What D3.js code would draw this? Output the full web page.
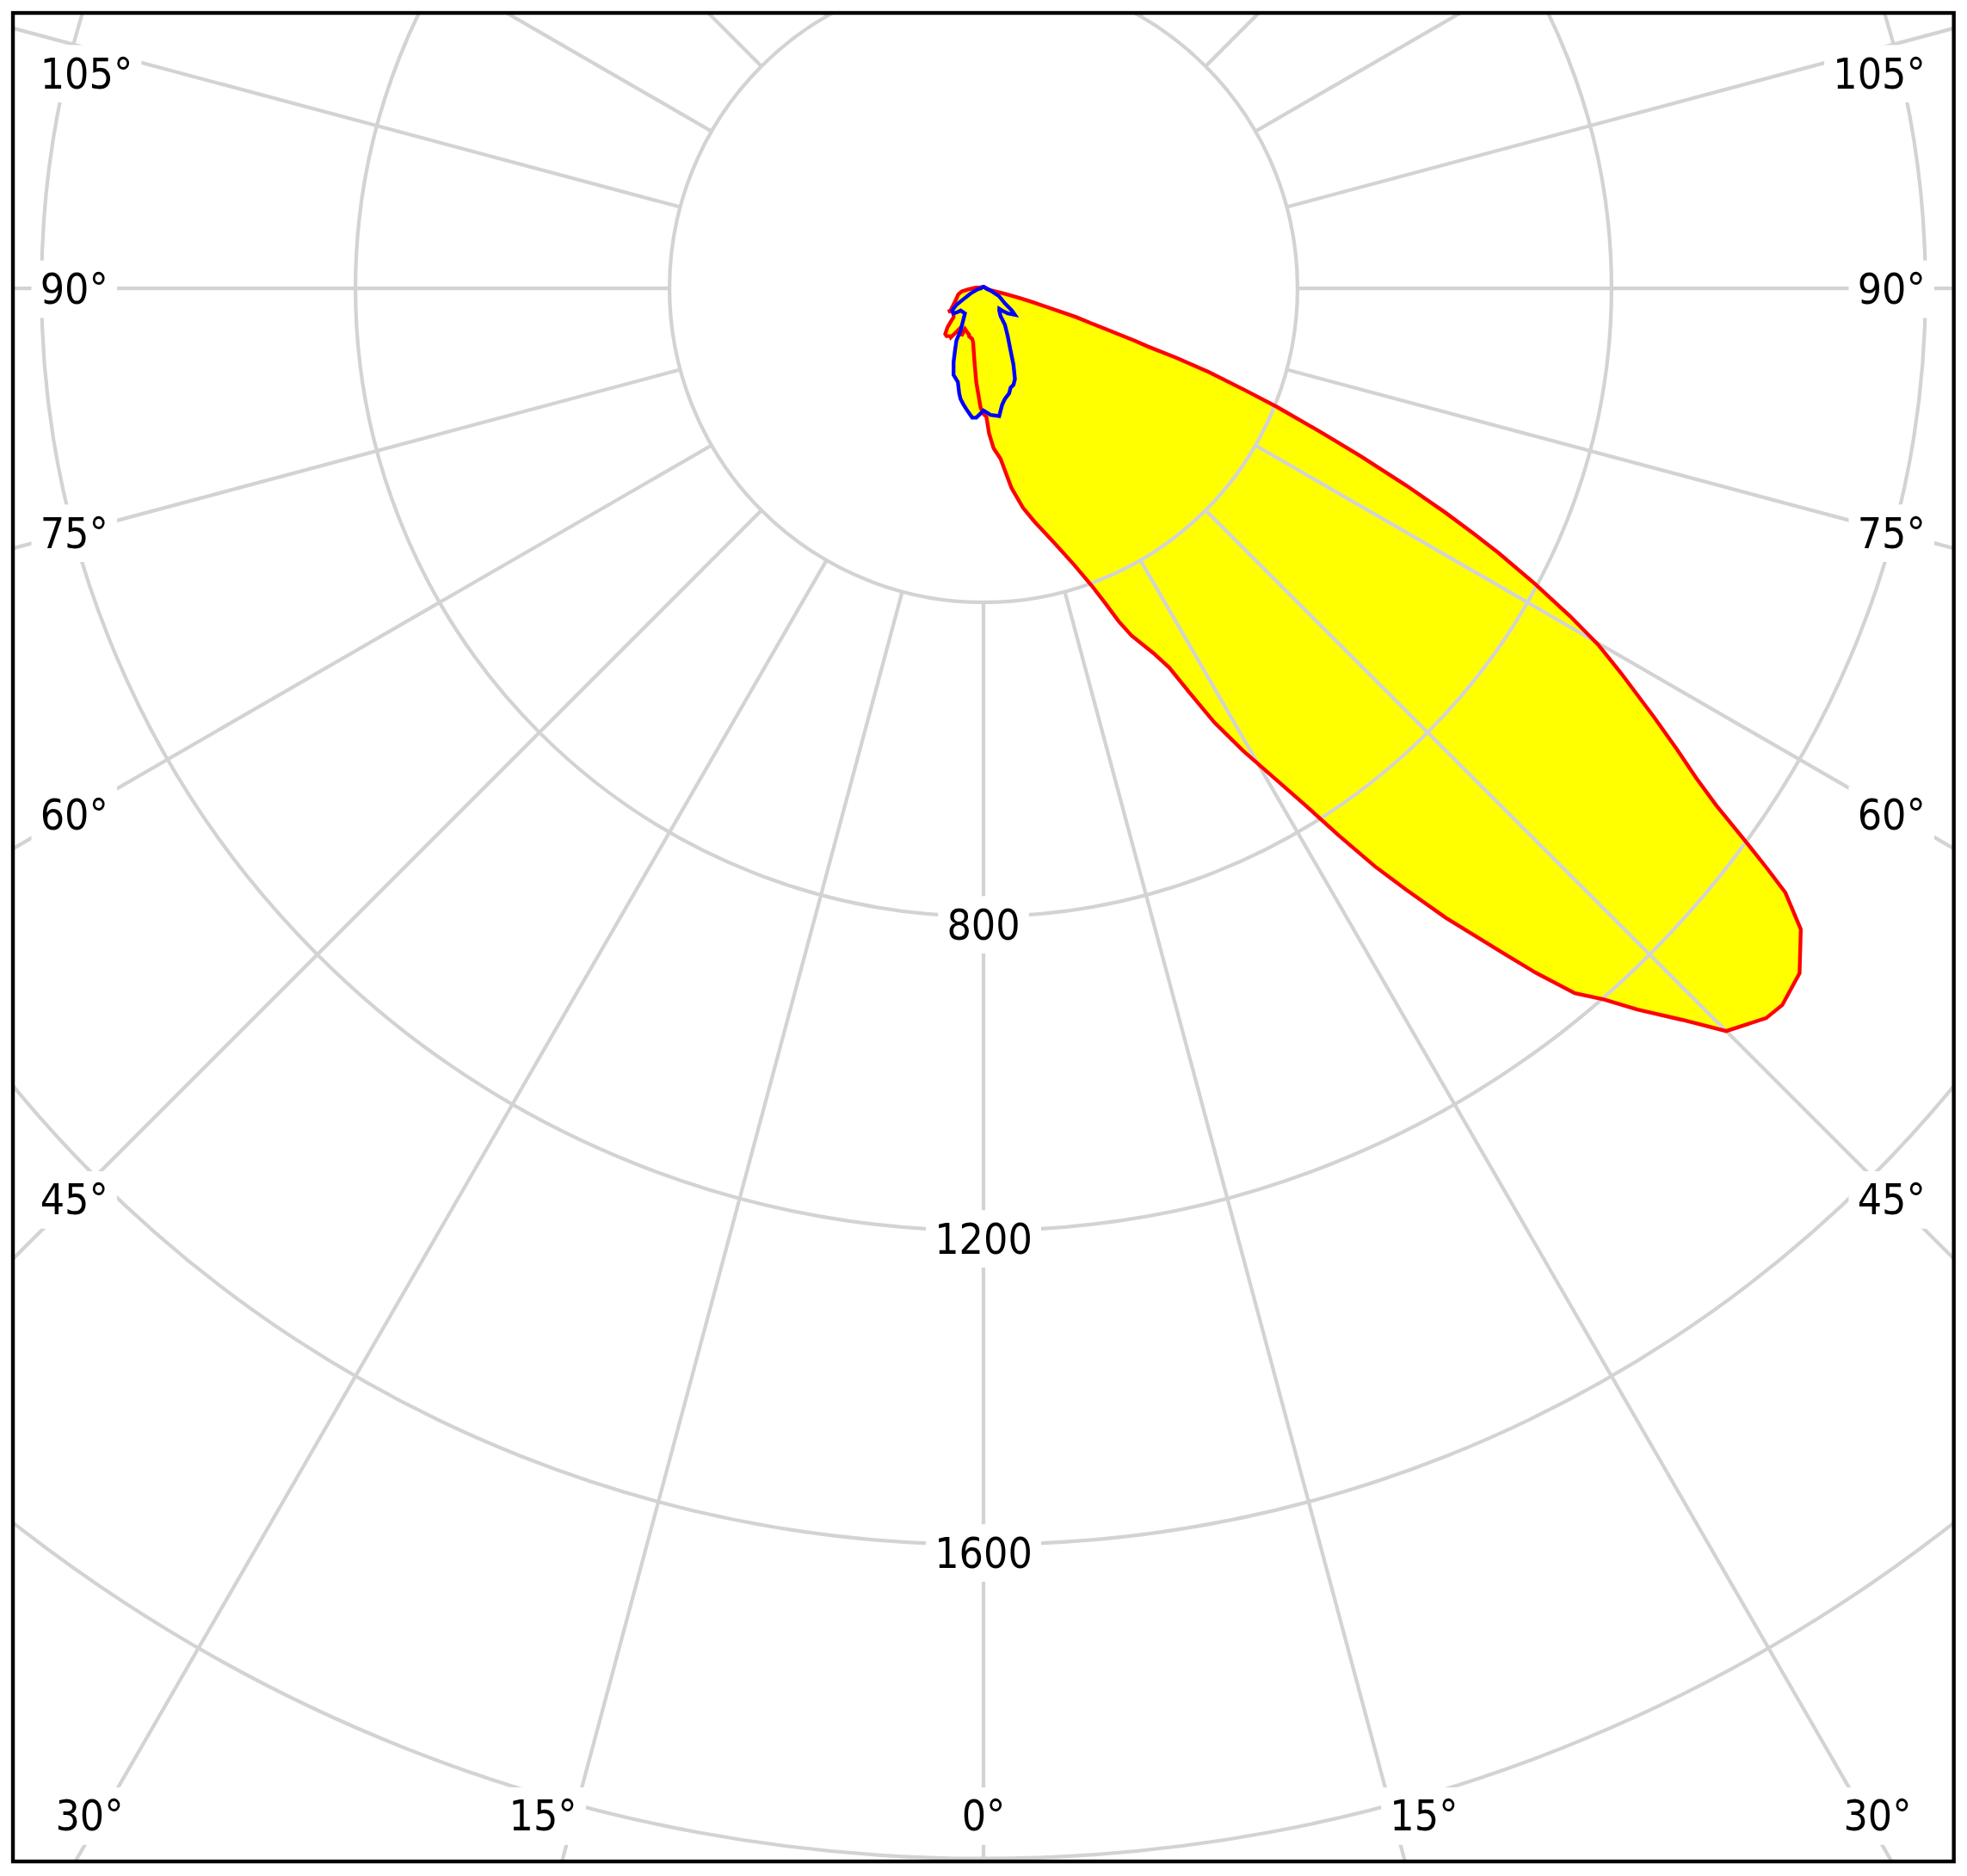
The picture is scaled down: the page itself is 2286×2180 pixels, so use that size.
<!DOCTYPE html>
<head>
  <meta charset="utf-8">
  <script src="https://unpkg.com/d3@7/dist/d3.min.js"></script>
  <style>
    body { margin: 0; background: #fff; }
    svg { display: block; }
    text { font-family: "DejaVu Sans Condensed", "DejaVu Sans", sans-serif; font-stretch: condensed; }
  </style>
</head>
<body>
<svg id="chart"></svg>
<script>
  // C0-C180 plane (red): [angle in degrees, negative = left side, candela]
  var planeC0 = [
    [-180, 2], [-150, 2], [-120, 3], [-100, 6], [-95, 9], [-92.9, 11], [-85.7, 20],
    [-81.8, 28], [-76.6, 33], [-67.5, 38], [-61, 44], [-56.4, 50], [-56.3, 54],
    [-54.6, 49], [-48.5, 51], [-46, 53], [-44.6, 59], [-42.6, 68], [-39.9, 76],
    [-37.7, 77], [-34.6, 74], [-33.6, 75], [-30.7, 60], [-27.8, 66], [-24.7, 65],
    [-24.4, 57], [-20, 60], [-17.2, 62], [-16.6, 64], [-12.7, 66], [-10.9, 70],
    [-7.4, 91], [-4.4, 120], [-1.4, 152], [0, 160], [1.3, 164], [2.2, 185],
    [3.6, 204], [5.7, 218], [8.0, 257], [10.2, 284], [12.3, 304], [15.5, 336],
    [18.1, 370], [20.0, 403], [21.1, 429], [22.1, 458], [23.1, 481], [25.0, 513],
    [26.1, 538], [27.0, 578], [28.0, 626], [29.3, 675], [30.8, 729], [31.9, 775],
    [33.0, 831], [34.1, 889], [35.1, 936], [36.3, 995], [38.0, 1074], [38.9, 1120],
    [40.0, 1172], [41.1, 1202], [42.2, 1240], [43.7, 1289], [45.0, 1338], [47.0, 1363],
    [48.1, 1367], [50.0, 1357], [51.9, 1323], [53.0, 1279], [53.5, 1241], [54.0, 1202],
    [54.8, 1142], [55.5, 1102], [56.4, 1060], [57.4, 1014], [58.9, 948], [59.9, 905],
    [60.8, 856], [61.8, 798], [62.8, 738], [63.4, 699], [64.1, 654], [65.0, 594],
    [66.0, 526], [66.9, 468], [68.0, 403], [68.7, 358], [69.6, 306], [70.2, 261],
    [70.5, 222], [70.9, 202], [71.2, 182], [71.6, 163], [72.0, 143], [72.7, 124],
    [73.1, 104], [73.5, 85], [74.2, 66], [75.0, 47], [75.4, 28], [75.6, 10],
    [78, 5], [85, 4], [90, 4], [100, 3], [120, 2], [150, 2], [180, 2]
  ];

  // C90-C270 plane (blue)
  var planeC90 = [
    [-180, 2], [-120, 2], [-90, 3], [-81.5, 7.4], [-68.2, 17.6], [-61.5, 29],
    [-58.6, 40.5], [-54.7, 49], [-50, 49.8], [-47.3, 44.5], [-45.7, 40.6],
    [-36.4, 39.8], [-33, 46.8], [-30.4, 54], [-28.4, 61.2], [-27.4, 75],
    [-24.6, 87.2], [-22.1, 101.3], [-19.1, 116.6], [-15.3, 123.7], [-13, 137.4],
    [-11.7, 144], [-9.7, 150.5], [-8.1, 155.4], [-5.0, 165.4], [-3.2, 165],
    [-1.3, 159.3], [0, 155.6], [3.2, 161.4], [7.0, 164], [8.0, 157], [9.1, 150.2],
    [10.9, 143.7], [13.7, 137.8], [15.3, 131], [17.3, 128.7], [19.1, 122.4],
    [21.4, 104.7], [23.5, 86.5], [26.8, 68.5], [30.4, 54], [31.5, 41.8],
    [35.2, 34.7], [37.6, 33], [39.8, 37], [44, 44.5], [49.8, 52.4], [52, 46],
    [54.8, 33.4], [63, 22.4], [72, 9.5], [90, 3], [120, 2], [180, 2]
  ];

  var rings = [400, 800, 1200, 1600, 2000, 2400, 2800];
  var ringLabels = [800, 1200, 1600];
  var spokeAngles = d3.range(0, 360, 15);
  var angleLabels = [0, 15, 30, 45, 60, 75, 90, 105];

  // drawing units; the svg is scaled up to the page size
  var W = 1566, H = W * 2180 / 2286;
  var box = {x0: 10.3, y0: 10.3, x1: 1555.5, y1: 1481.8};
  var cx = 783, cy = 229.5;
  var fontSize = 34;

  var svg = d3.select("#chart")
    .attr("width", 2286)
    .attr("height", 2180)
    .attr("viewBox", "0 0 " + W + " " + H);

  var r = d3.scaleLinear().domain([0, 400]).range([0, 250]);
  var rad = function (deg) { return deg * Math.PI / 180; };

  svg.append("clipPath").attr("id", "plotclip")
    .append("rect")
      .attr("x", box.x0).attr("y", box.y0)
      .attr("width", box.x1 - box.x0).attr("height", box.y1 - box.y0);

  var plot = svg.append("g").attr("clip-path", "url(#plotclip)");
  var g = plot.append("g").attr("transform", "translate(" + cx + "," + cy + ")");

  // angle measured from nadir, positive to the right
  var curve = d3.lineRadial()
    .angle(function (d) { return Math.PI - rad(d[0]); })
    .radius(function (d) { return r(d[1]); })
    .curve(d3.curveLinearClosed);

  // fills first
  [planeC0, planeC90].forEach(function (data) {
    g.append("path").attr("d", curve(data)).attr("fill", "#ffff00").attr("stroke", "none");
  });

  // grid
  var grid = g.append("g").attr("fill", "none").attr("stroke", "#d3d3d3").attr("stroke-width", 2.9);
  grid.selectAll("circle").data(rings).enter().append("circle").attr("r", r);
  grid.selectAll("line").data(spokeAngles).enter().append("line")
    .attr("x1", function (d) { return r(400) * Math.sin(rad(d)); })
    .attr("y1", function (d) { return r(400) * Math.cos(rad(d)); })
    .attr("x2", function (d) { return r(4000) * Math.sin(rad(d)); })
    .attr("y2", function (d) { return r(4000) * Math.cos(rad(d)); });

  // outlines
  g.append("path").attr("d", curve(planeC0)).attr("fill", "none")
    .attr("stroke", "#ff0000").attr("stroke-width", 3);
  g.append("path").attr("d", curve(planeC90)).attr("fill", "none")
    .attr("stroke", "#0000ff").attr("stroke-width", 3);

  // labels with white background
  function label(x, y, txt, anchor) {
    var lg = plot.append("g");
    var t = lg.append("text")
      .attr("x", x).attr("y", y + 0.364 * fontSize)
      .attr("text-anchor", anchor)
      .attr("font-size", fontSize)
      .attr("fill", "#000")
      .text(txt);
    var b = t.node().getBBox();
    lg.insert("rect", "text")
      .attr("x", b.x - 7).attr("y", b.y - 3)
      .attr("width", b.width + 14).attr("height", b.height + 6)
      .attr("fill", "#fff");
  }

  ringLabels.forEach(function (v) {
    label(cx, cy + r(v) + 6, v, "middle");
  });

  var yBottom = 1445, sideDx = 725, yTop = 58;
  angleLabels.forEach(function (deg) {
    var sides = deg === 0 ? [1] : [-1, 1];
    sides.forEach(function (s) {
      var txt = deg + "\u00b0";
      if (deg <= 30) {
        var dx = deg === 0 ? 0 : (yBottom - cy) * Math.tan(rad(deg)) + 40 - deg;
        label(cx + s * dx, yBottom, txt, "middle");
      } else {
        var y = cy + sideDx * Math.cos(rad(deg)) / Math.sin(rad(deg));
        y = Math.max(yTop, y);
        if (s < 0) label(32, y, txt, "start");
        else label(1533, y, txt, "end");
      }
    });
  });

  // frame
  svg.append("rect")
    .attr("x", box.x0).attr("y", box.y0)
    .attr("width", box.x1 - box.x0).attr("height", box.y1 - box.y0)
    .attr("fill", "none").attr("stroke", "#000").attr("stroke-width", 3);
</script>
</body>
